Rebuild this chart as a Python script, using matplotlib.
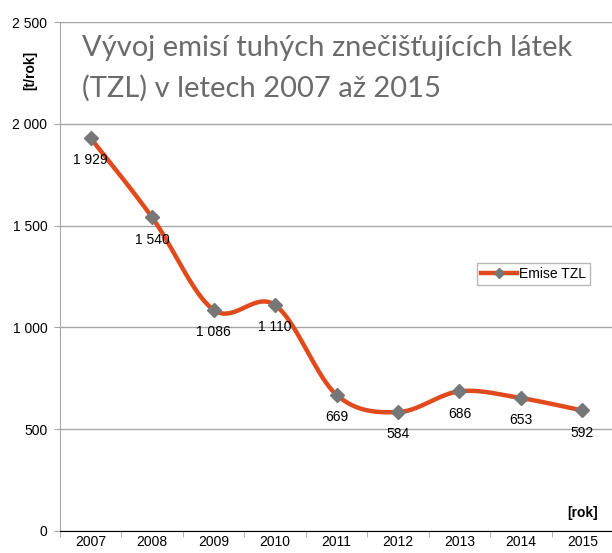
import numpy as np
import matplotlib
matplotlib.use("Agg")
import matplotlib.pyplot as plt
from matplotlib.lines import Line2D

# ---------- data ----------
roky = ["2007", "2008", "2009", "2010", "2011", "2012", "2013", "2014", "2015"]
emise_tzl = [1929, 1540, 1086, 1110, 669, 584, 686, 653, 592]
y_ticks = [0, 500, 1000, 1500, 2000, 2500]

CARA = "#E04A1C"
ZNACKA = "#777777"
MRIZKA = "#A6A6A6"


def fmt_cz(v):
    return f"{int(v):,}".replace(",", " ")


def catmull_rom(xs, ys, n=40):
    # hladka krivka jako v Excelu (spline pres body)
    xs = np.asarray(xs, float)
    ys = np.asarray(ys, float)
    px = np.concatenate([[xs[0]], xs, [xs[-1]]])
    py = np.concatenate([[ys[0]], ys, [ys[-1]]])
    out_x, out_y = [], []
    t = np.linspace(0, 1, n)
    for i in range(1, len(px) - 2):
        p0, p1, p2, p3 = [np.array([px[j], py[j]]) for j in (i - 1, i, i + 1, i + 2)]
        c1 = p1 + (p2 - p0) / 6
        c2 = p2 - (p3 - p1) / 6
        b = ((1 - t) ** 3)[:, None] * p1 + (3 * (1 - t) ** 2 * t)[:, None] * c1 \
            + (3 * (1 - t) * t ** 2)[:, None] * c2 + (t ** 3)[:, None] * p2
        out_x.extend(b[:, 0])
        out_y.extend(b[:, 1])
    return np.array(out_x), np.array(out_y)


plt.rcParams["font.family"] = ["Liberation Sans", "DejaVu Sans"]

fig = plt.figure(figsize=(6.12, 5.53), dpi=100)
ax = fig.add_axes([60 / 612, 22 / 553, 553 / 612, 509 / 553])

x = np.arange(len(roky))
sx, sy = catmull_rom(x, emise_tzl)
ax.plot(sx, sy, color=CARA, lw=3.2, solid_capstyle="round", zorder=3)
ax.plot(x, emise_tzl, ls="none", marker="D", ms=7.5, color=ZNACKA, zorder=4)

for xi, v in zip(x, emise_tzl):
    ax.annotate(fmt_cz(v), (xi, v), xytext=(0, -16), textcoords="offset points",
                ha="center", va="center", fontsize=10, color="black", zorder=5)

ax.set_xlim(-0.5, len(roky) - 0.5)
ax.set_ylim(0, 2500)
ax.set_yticks(y_ticks)
ax.set_yticklabels([fmt_cz(v) for v in y_ticks], fontsize=10)
ax.set_xticks(x)
ax.set_xticklabels(roky, fontsize=10)
ax.set_xticks(np.arange(-0.5, len(roky), 1), minor=True)
ax.tick_params(axis="x", which="major", length=0, pad=3)
ax.tick_params(axis="x", which="minor", length=4, color=MRIZKA)
ax.tick_params(axis="y", length=4, color=MRIZKA, pad=5)
ax.grid(axis="y", color=MRIZKA, lw=1)
ax.set_axisbelow(True)
for s in ("top", "right"):
    ax.spines[s].set_visible(False)
ax.spines["left"].set_color(MRIZKA)
ax.spines["bottom"].set_color("black")

fig.text(30 / 612, 1 - 70 / 553, "[t/rok]", rotation=90, ha="center", va="center",
         fontsize=10, fontweight="bold")
fig.text(598 / 612, 1 - 513 / 553, "[rok]", ha="right", va="center",
         fontsize=10, fontweight="bold")

titulek = dict(ha="left", va="center", fontsize=21, color="#6B6B6B",
               family=["Lato", "DejaVu Sans"])
fig.text(82 / 612, 1 - 48 / 553, "Vývoj emisí tuhých znečišťujících látek", **titulek)
fig.text(82 / 612, 1 - 88 / 553, "(TZL) v letech 2007 až 2015", **titulek)

h = Line2D([], [], color=CARA, lw=3.2, marker="D", ms=5, mfc=ZNACKA, mec=ZNACKA)
leg = ax.legend([h], ["Emise TZL"], loc="upper left",
                bbox_to_anchor=((477 - 60) / 553, (531 - 263) / 509),
                bbox_transform=ax.transAxes, fontsize=10, frameon=True,
                fancybox=False, handlelength=2.6, handletextpad=0.1,
                borderpad=0.3, borderaxespad=0)
leg.get_frame().set_edgecolor(MRIZKA)
leg.get_frame().set_linewidth(1)

fig.savefig("out.png", dpi=100, facecolor="white")
